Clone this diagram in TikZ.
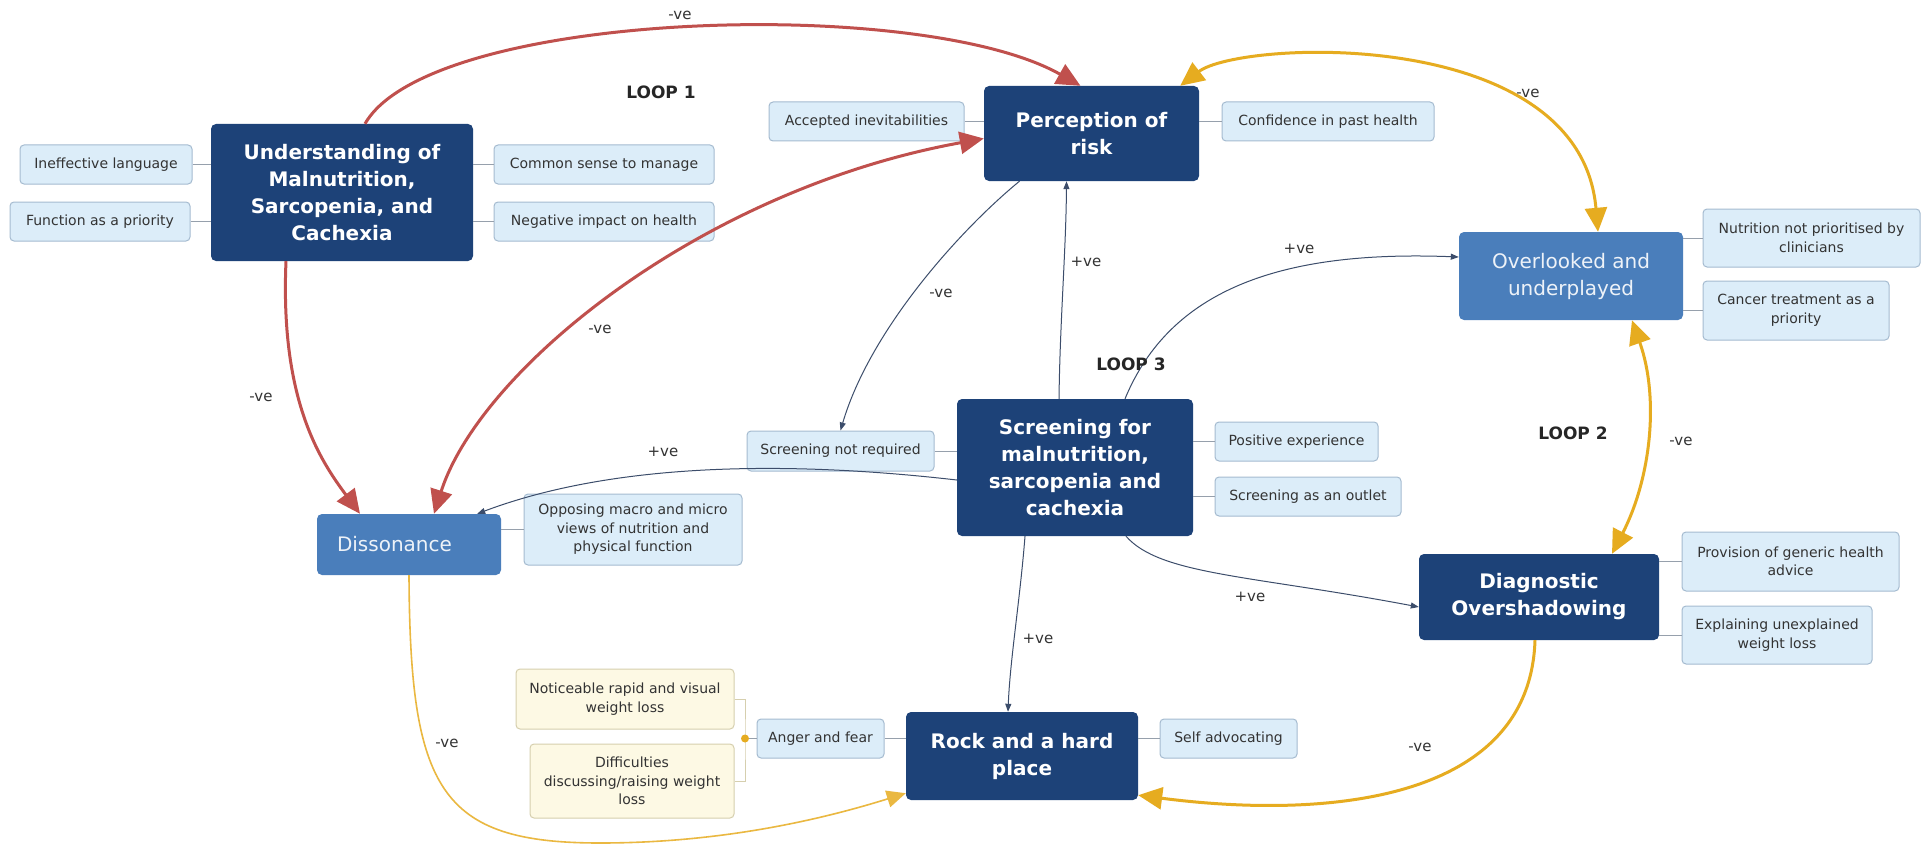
\documentclass[tikz,border=0pt]{standalone}
\usepackage{fontspec}
\setmainfont{DejaVu Sans}
\usetikzlibrary{arrows.meta,calc}
\definecolor{navy}{RGB}{29,66,120}
\definecolor{lblue}{RGB}{74,126,187}
\definecolor{subfill}{RGB}{220,237,249}
\definecolor{subdraw}{RGB}{165,187,208}
\definecolor{yfill}{RGB}{253,249,228}
\definecolor{ydraw}{RGB}{214,207,174}
\definecolor{redc}{RGB}{192,80,77}
\definecolor{goldc}{RGB}{230,172,32}
\definecolor{thinc}{RGB}{60,77,107}
\definecolor{linkc}{RGB}{150,160,172}
\definecolor{txt}{RGB}{51,51,51}
\tikzset{
  mainbox/.style={fill=navy, draw=none, rounded corners=5pt, text=white,
    font=\fontsize{20}{27}\selectfont\bfseries, align=center, inner sep=0pt},
  lightbox/.style={fill=lblue, draw=none, rounded corners=5pt, text=white!90!lblue,
    font=\fontsize{20}{27}\selectfont, inner sep=0pt},
  subbox/.style={fill=subfill, draw=subdraw, line width=1pt, rounded corners=4pt,
    text=txt, font=\fontsize{14}{18.5}\selectfont, align=center, inner sep=0pt},
  ybox/.style={subbox, fill=yfill, draw=ydraw},
  link/.style={draw=linkc, line width=1pt},
  lbl/.style={font=\fontsize{15}{18}\selectfont, text=txt},
  looplbl/.style={font=\fontsize{17}{20}\selectfont\bfseries, text=black!85},
  redarr/.style={draw=redc, line width=3pt, -{Triangle[length=24pt,width=22pt]}},
  redarr2/.style={draw=redc, line width=3pt, {Triangle[length=24pt,width=22pt]}-{Triangle[length=24pt,width=22pt]}},
  goldarr/.style={draw=goldc, line width=3pt, -{Triangle[length=24pt,width=22pt]}},
  goldarr2/.style={draw=goldc, line width=3pt, {Triangle[length=24pt,width=22pt]}-{Triangle[length=24pt,width=22pt]}},
  thinarr/.style={draw=thinc, line width=1pt, -{Triangle[length=8pt,width=6pt]}},
}
\begin{document}
\begin{tikzpicture}[x=1pt,y=-1pt]
\useasboundingbox[fill=white] (0,0) rectangle (1927,848);

% main nodes
\node[mainbox, minimum width=262, minimum height=137] (und) at (342,192.5)
  {Understanding of\\Malnutrition,\\Sarcopenia, and\\Cachexia};
\node[mainbox, minimum width=215, minimum height=95] (per) at (1091.5,133.5)
  {Perception of\\risk};
\node[lightbox, minimum width=224, minimum height=88, align=center] (over) at (1571,276)
  {Overlooked and\\underplayed};
\node[mainbox, minimum width=236, minimum height=137] (scr) at (1075,467.5)
  {Screening for\\malnutrition,\\sarcopenia and\\cachexia};
\node[lightbox, minimum height=61, text width=144pt, inner xsep=20pt, align=left] (diss) at (409,544.5)
  {Dissonance};
\node[mainbox, minimum width=240, minimum height=86] (diag) at (1539,597)
  {Diagnostic\\Overshadowing};
\node[mainbox, minimum width=232, minimum height=88] (rock) at (1022,756)
  {Rock and a hard\\place};

% sub nodes
\node[subbox, minimum width=172, minimum height=39] (ineff) at (106,164.5) {Ineffective language};
\node[subbox, minimum width=180, minimum height=39] (func) at (100,221.5) {Function as a priority};
\node[subbox, minimum width=220, minimum height=39] (comm) at (604,164.5) {Common sense to manage};
\node[subbox, minimum width=220, minimum height=39] (neg) at (604,221.5) {Negative impact on health};
\node[subbox, minimum width=195, minimum height=39] (acc) at (866.5,121.5) {Accepted inevitabilities};
\node[subbox, minimum width=212, minimum height=39] (conf) at (1328,121.5) {Confidence in past health};
\node[subbox, minimum width=217, minimum height=58] (nutr) at (1811.5,238) {Nutrition not prioritised by\\clinicians};
\node[subbox, minimum width=186, minimum height=59] (canc) at (1796,310.5) {Cancer treatment as a\\priority};
\node[subbox, minimum width=187, minimum height=40] (snr) at (840.5,451) {Screening not required};
\node[subbox, minimum width=163, minimum height=39] (pos) at (1296.5,441.5) {Positive experience};
\node[subbox, minimum width=186, minimum height=39] (outl) at (1308,496.5) {Screening as an outlet};
\node[subbox, minimum width=218, minimum height=71] (opp) at (633,529.5) {Opposing macro and micro\\views of nutrition and\\physical function};
\node[subbox, minimum width=217, minimum height=59] (prov) at (1790.5,561.5) {Provision of generic health\\advice};
\node[subbox, minimum width=190, minimum height=58] (expl) at (1777,635) {Explaining unexplained\\weight loss};
\node[ybox, minimum width=218, minimum height=60] (noti) at (625,699) {Noticeable rapid and visual\\weight loss};
\node[ybox, minimum width=204, minimum height=74] (diff) at (632,781) {Difficulties\\discussing/raising weight\\loss};
\node[subbox, minimum width=127, minimum height=39] (ang) at (820.5,738.5) {Anger and fear};
\node[subbox, minimum width=137, minimum height=39] (self) at (1228.5,738.5) {Self advocating};

% child links
\draw[link] (ineff.east) -- (und.west |- ineff.east);
\draw[link] (func.east) -- (und.west |- func.east);
\draw[link] (comm.west) -- (und.east |- comm.west);
\draw[link] (neg.west) -- (und.east |- neg.west);
\draw[link] (acc.east) -- (per.west |- acc.east);
\draw[link] (conf.west) -- (per.east |- conf.west);
\draw[link] (nutr.west) -- (over.east |- nutr.west);
\draw[link] (canc.west) -- (over.east |- canc.west);
\draw[link] (snr.east) -- (scr.west |- snr.east);
\draw[link] (pos.west) -- (scr.east |- pos.west);
\draw[link] (outl.west) -- (scr.east |- outl.west);
\draw[link] (opp.west) -- (diss.east |- opp.west);
\draw[link] (prov.west) -- (diag.east |- prov.west);
\draw[link] (expl.west) -- (diag.east |- expl.west);
\draw[link] (ang.east) -- (rock.west |- ang.east);
\draw[link] (self.west) -- (rock.east |- self.west);
\coordinate (jn) at (745,738.5);
\draw[draw=ydraw, line width=1pt] (noti.east) -| (jn) |- (diff.east);
\draw[link] (jn) -- (ang.west);
\fill[goldc] (jn) circle (4);

% red arrows
\draw[redarr] ([xshift=23pt]und.north) .. controls (430,10) and (920,-5) .. ([xshift=-11pt]per.north);
\draw[redarr] ([xshift=-56pt]und.south) .. controls (280,400) and (320,460) .. ([xshift=-49pt]diss.north);
\draw[redarr2] ([yshift=-5pt]per.west) .. controls (700,190) and (480,370) .. ([xshift=25pt]diss.north);

% gold arrows
\draw[goldarr2] ([xshift=-19pt]per.north east) .. controls (1240,40) and (1580,25) .. ([xshift=27pt]over.north);
\draw[goldarr2] ([xshift=61pt]over.south) .. controls (1660,400) and (1650,480) .. ([xshift=73pt]diag.north);
\draw[goldarr] ([xshift=-4pt]diag.south) .. controls (1530,800) and (1330,820) .. ([yshift=5pt]rock.south east);
\coordinate (ybot) at (600,843);
\draw[draw=goldc!85!white, line width=1.6pt, -{Triangle[length=19pt,width=17pt]}] (diss.south)
  .. controls (410,790) and (440,843) .. (ybot)
  .. controls (720,843) and (820,820) .. ([yshift=7pt]rock.south west);

% thin arrows
\draw[thinarr] ([xshift=-16pt]scr.north) .. controls (1060,320) and (1066,250) .. ([xshift=-25pt]per.south);
\draw[thinarr] ([xshift=-72pt]per.south) .. controls (960,230) and (870,330) .. (snr.north);
\draw[thinarr] ([xshift=50pt]scr.north) .. controls (1170,290) and (1280,250) .. ([yshift=19pt]over.west);
\draw[thinarr] ([xshift=51pt]scr.south) .. controls (1160,575) and (1250,575) .. ([yshift=-10pt]diag.west);
\draw[thinarr] ([xshift=-50pt]scr.south) .. controls (1020,600) and (1010,660) .. ([xshift=-14pt]rock.north);
\draw[thinarr] ([yshift=-12.5pt]scr.west) .. controls (800,462) and (620,460) .. ([xshift=-24pt]diss.north east);

% labels
\node[lbl] (l1) at (680,15) {-ve};
\node[lbl] (l2) at (261,397) {-ve};
\node[lbl] (l3) at (600,329) {-ve};
\node[lbl] (l4) at (1528,93) {-ve};
\node[lbl] (l5) at (1681,441) {-ve};
\node[lbl] (l6) at (1420,747) {-ve};
\node[lbl] (l7) at (447,743) {-ve};
\node[lbl] (l8) at (941,293) {-ve};
\node[lbl] (p1) at (1086,262) {+ve};
\node[lbl] (p2) at (1299,249) {+ve};
\node[lbl] (p3) at (1250,597) {+ve};
\node[lbl] (p4) at (1038,639) {+ve};
\node[lbl] (p5) at (663,452) {+ve};
\node[looplbl] (loop1) at (661,92) {LOOP 1};
\node[looplbl] (loop3) at (1131,364) {LOOP 3};
\node[looplbl] (loop2) at (1573,433) {LOOP 2};
\end{tikzpicture}
\end{document}
